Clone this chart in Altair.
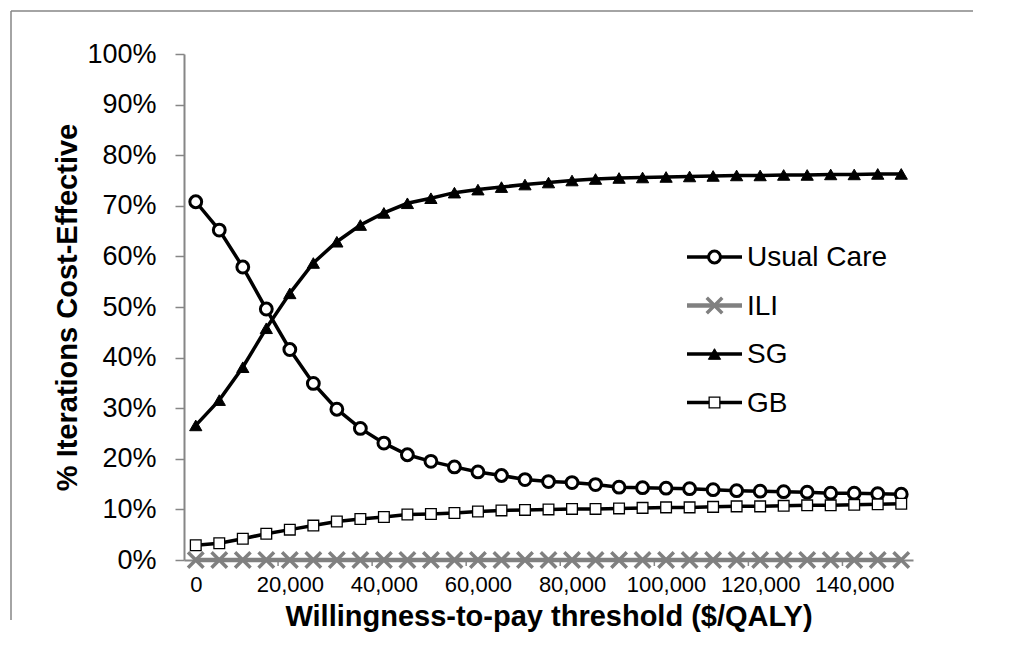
import altair as alt
import pandas as pd

# ---- data ----
wtp = [0, 5000, 10000, 15000, 20000, 25000, 30000, 35000, 40000, 45000,
       50000, 55000, 60000, 65000, 70000, 75000, 80000, 85000, 90000, 95000,
       100000, 105000, 110000, 115000, 120000, 125000, 130000, 135000, 140000,
       145000, 150000]
usual_care = [70.8, 65.2, 57.9, 49.6, 41.6, 34.9, 29.8, 26.0, 23.1, 20.8, 19.5,
              18.4, 17.4, 16.7, 15.9, 15.5, 15.3, 14.9, 14.4, 14.3, 14.2, 14.1,
              13.9, 13.7, 13.6, 13.5, 13.4, 13.2, 13.2, 13.1, 13.0]
ili = [0.0] * 31
sg = [26.6, 31.6, 38.1, 45.8, 52.7, 58.7, 62.9, 66.2, 68.6, 70.5, 71.5, 72.6,
      73.2, 73.7, 74.2, 74.6, 75.0, 75.3, 75.5, 75.6, 75.7, 75.8, 75.9, 76.0,
      76.0, 76.1, 76.1, 76.2, 76.2, 76.3, 76.3]
gb = [2.9, 3.3, 4.2, 5.2, 6.0, 6.8, 7.6, 8.1, 8.5, 9.0, 9.1, 9.3, 9.6, 9.8, 9.9,
      10.0, 10.1, 10.1, 10.2, 10.3, 10.4, 10.4, 10.5, 10.6, 10.6, 10.7, 10.8,
      10.8, 10.9, 11.0, 11.1]
series_names = ["Usual Care", "ILI", "SG", "GB"]
series_values = [usual_care, ili, sg, gb]
x_label_values = [0, 20000, 40000, 60000, 80000, 100000, 120000, 140000]
x_tick_values = [17500, 37500, 57500, 77500, 97500, 117500, 137500]
y_tick_values = [0, 0.1, 0.2, 0.3, 0.4, 0.5, 0.6, 0.7, 0.8, 0.9, 1.0]

FONT = "Liberation Sans"
W, H = 729, 506
GREY = "#868686"

# styles per series
styles = {
    "Usual Care": dict(color="black", lw=3.5, shape="circle", size=140, fill="white", sw=3),
    "ILI": dict(color="#808080", lw=4.5, shape="M-1,-1L1,1M-1,1L1,-1", size=240, fill="none", sw=3.5),
    "SG": dict(color="black", lw=3.5, shape="triangle-up", size=150, fill="black", sw=1),
    "GB": dict(color="black", lw=3.5, shape="square", size=115, fill="white", sw=1.3),
}

xscale = alt.Scale(domain=[-2500, 152500], nice=False, zero=False)
yscale = alt.Scale(domain=[0, 1], nice=False)

layers = []
first = True
for name, vals in zip(series_names, series_values):
    df = pd.DataFrame({"wtp": wtp, "value": [v / 100 for v in vals]})
    st = styles[name]
    if first:
        xenc = alt.X("wtp:Q", scale=xscale,
                     axis=alt.Axis(values=x_label_values, format=",d", ticks=False,
                                   grid=False, domainColor=GREY, domainWidth=2,
                                   labelFont=FONT, labelFontSize=22, labelColor="black",
                                   labelPadding=14, labelFlush=False,
                                   title="Willingness-to-pay threshold ($/QALY)",
                                   titleFont=FONT, titleFontSize=29, titleFontWeight="bold",
                                   titleColor="black", titlePadding=7))
        yenc = alt.Y("value:Q", scale=yscale,
                     axis=alt.Axis(values=y_tick_values, format=".0%", grid=False,
                                   domainColor=GREY, domainWidth=2, tickColor=GREY,
                                   tickSize=9, tickWidth=1.5,
                                   labelFont=FONT, labelFontSize=27, labelColor="black",
                                   labelPadding=19, labelFlush=False,
                                   title="% Iterations Cost-Effective",
                                   titleFont=FONT, titleFontSize=29, titleFontWeight="bold",
                                   titleColor="black", titlePadding=4))
        first = False
    else:
        xenc = alt.X("wtp:Q", scale=xscale)
        yenc = alt.Y("value:Q", scale=yscale)
    base = alt.Chart(df)
    line = base.mark_line(color=st["color"], strokeWidth=st["lw"], clip=False).encode(x=xenc, y=yenc)
    pts = base.mark_point(shape=st["shape"], size=st["size"], filled=False,
                          fill=st["fill"], stroke=st["color"], strokeWidth=st["sw"],
                          opacity=1, clip=False).encode(x=alt.X("wtp:Q", scale=xscale),
                                                         y=alt.Y("value:Q", scale=yscale))
    layers += [line, pts]

# small x-axis tick marks at category boundaries
ticks_df = pd.DataFrame({"t": x_tick_values})
xticks = alt.Chart(ticks_df).mark_rule(color=GREY, strokeWidth=1.5).encode(
    x=alt.X("t:Q", scale=xscale), y=alt.value(H), y2=alt.value(H + 6))

# manual legend
legend_layers = []
leg_x0, leg_x1, leg_sym, leg_txt = 503, 558, 530.5, 563
leg_y0, leg_dy = 203, 48.5
for i, name in enumerate(series_names):
    st = styles[name]
    ld = pd.DataFrame({"label": [name]})
    yy = leg_y0 + i * leg_dy
    c = alt.Chart(ld)
    legend_layers.append(c.mark_rule(color=st["color"], strokeWidth=st["lw"]).encode(
        x=alt.value(leg_x0), x2=alt.value(leg_x1), y=alt.value(yy)))
    legend_layers.append(c.mark_point(shape=st["shape"], size=st["size"], filled=False,
                                      fill=st["fill"], stroke=st["color"],
                                      strokeWidth=st["sw"], opacity=1).encode(
        x=alt.value(leg_sym), y=alt.value(yy)))
    legend_layers.append(c.mark_text(align="left", baseline="middle", font=FONT,
                                     fontSize=28, color="black").encode(
        x=alt.value(leg_txt), y=alt.value(yy + 1), text="label:N"))

# outer chart border: top and left edges (the frame's other edges lie off the page)
bdf = pd.DataFrame({"k": [0]})
border_top = alt.Chart(bdf).mark_rule(color=GREY, strokeWidth=1.5).encode(
    x=alt.value(-173), x2=alt.value(W + 60), y=alt.value(-43))
border_left = alt.Chart(bdf).mark_rule(color=GREY, strokeWidth=1.5).encode(
    x=alt.value(-173), y=alt.value(-43), y2=alt.value(H + 60))

chart = alt.layer(border_top, border_left, xticks, *layers, *legend_layers).properties(
    width=W, height=H,
    autosize=alt.AutoSizeParams(type="none"),
    padding={"left": 176, "top": 46, "right": 91, "bottom": 99},
).configure_view(stroke=None)

chart.save("out.html", embed_options={"renderer": "svg", "actions": False})
